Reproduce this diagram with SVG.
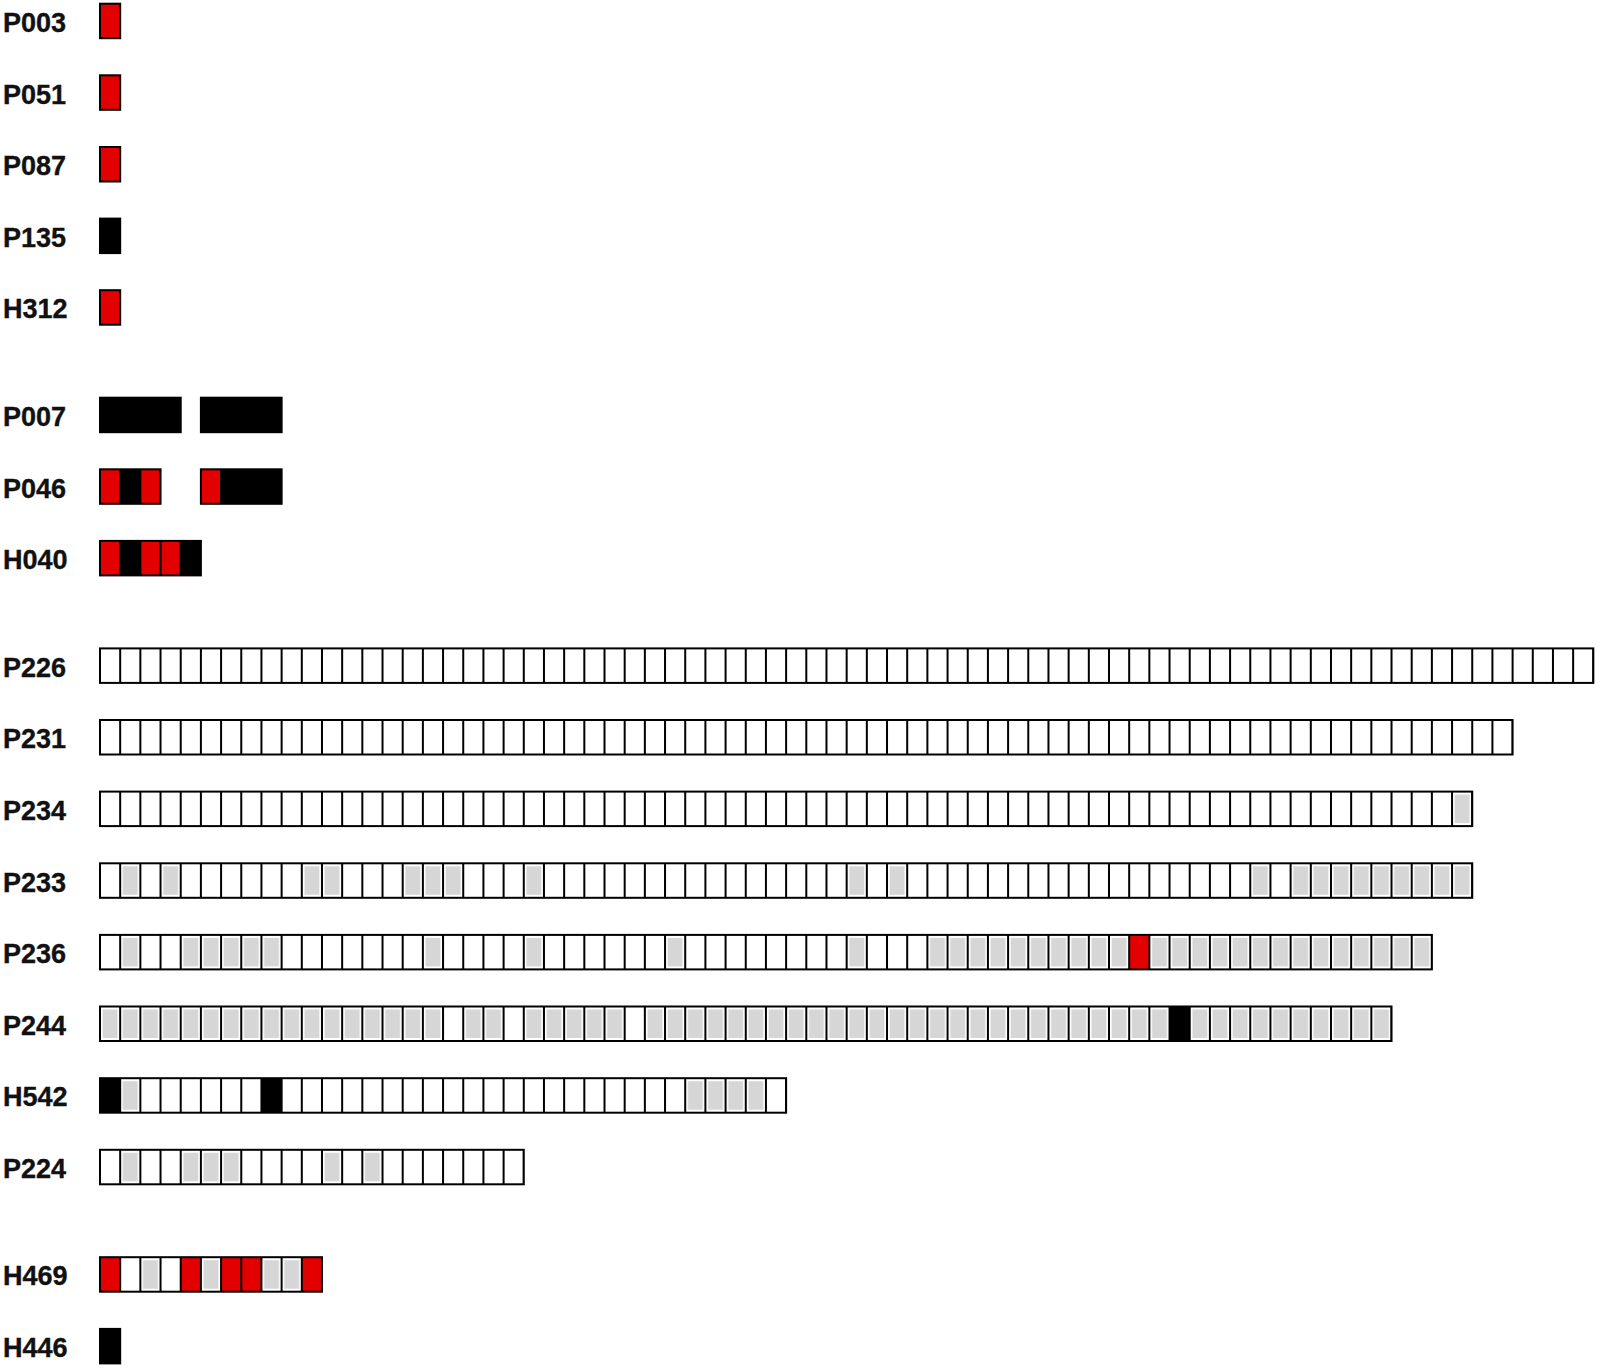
<svg xmlns="http://www.w3.org/2000/svg" width="1600" height="1372" viewBox="0 0 1600 1372">
<style>
.lbl{font-family:"Liberation Sans",Arial,sans-serif;font-weight:bold;font-size:27px;fill:#111;stroke:#111;stroke-width:0.35}
.bg{fill:#fff}
.gr{fill:url(#gp)}
.rd{fill:#e20000}
.bk{fill:#000}
.dv{stroke:#000;stroke-width:34.5;stroke-dasharray:2 18.16;stroke-dashoffset:1;fill:none}
.ol{fill:none;stroke:#000;stroke-width:2}
.c{stroke:#000;stroke-width:2}
</style>
<defs>
<pattern id="gp" patternUnits="userSpaceOnUse" x="100" y="0" width="20.16" height="36.5">
<rect x="2.6" y="4" width="14.96" height="28.5" fill="#d6d6d6"/>
</pattern>
</defs>
<rect width="1600" height="1372" fill="#fff"/>
<g id="chart" transform="matrix(1.000992 0 0 1 -0.0992 0)">

<g id="row-P003" transform="translate(0,2.7)">
<text class="lbl" x="3" y="29.3">P003</text>
<rect class="rd c" x="100" y="1" width="20.16" height="34.5"/>
</g>
<g id="row-P051" transform="translate(0,74.3)">
<text class="lbl" x="3" y="29.3">P051</text>
<rect class="rd c" x="100" y="1" width="20.16" height="34.5"/>
</g>
<g id="row-P087" transform="translate(0,146)">
<text class="lbl" x="3" y="29.3">P087</text>
<rect class="rd c" x="100" y="1" width="20.16" height="34.5"/>
</g>
<g id="row-P135" transform="translate(0,217.6)">
<text class="lbl" x="3" y="29.3">P135</text>
<rect class="bk c" x="100" y="1" width="20.16" height="34.5"/>
</g>
<g id="row-H312" transform="translate(0,289.2)">
<text class="lbl" x="3" y="29.3">H312</text>
<rect class="rd c" x="100" y="1" width="20.16" height="34.5"/>
</g>

<g id="row-P007" transform="translate(0,396.7)">
<text class="lbl" x="3" y="29.3">P007</text>
<rect class="bk c" x="100" y="1" width="80.64" height="34.5"/>
<rect class="bk c" x="200.8" y="1" width="80.64" height="34.5"/>
</g>
<g id="row-P046" transform="translate(0,468.3)">
<text class="lbl" x="3" y="29.3">P046</text>
<rect class="bg" x="100" y="1" width="60.48" height="34.5"/>
<rect class="rd" x="100" y="1" width="20.16" height="34.5"/>
<rect class="bk" x="120.16" y="1" width="20.16" height="34.5"/>
<rect class="rd" x="140.32" y="1" width="20.16" height="34.5"/>
<line class="dv" x1="100" y1="18.25" x2="160.48" y2="18.25"/>
<rect class="ol" x="100" y="1" width="60.48" height="34.5"/>
<rect class="rd" x="200.8" y="1" width="20.16" height="34.5"/>
<rect class="bk" x="220.96" y="1" width="60.48" height="34.5"/>
<line class="dv" x1="200.8" y1="18.25" x2="281.44" y2="18.25"/>
<rect class="ol" x="200.8" y="1" width="80.64" height="34.5"/>
</g>
<g id="row-H040" transform="translate(0,539.9)">
<text class="lbl" x="3" y="29.3">H040</text>
<rect class="rd" x="100" y="1" width="20.16" height="34.5"/>
<rect class="bk" x="120.16" y="1" width="20.16" height="34.5"/>
<rect class="rd" x="140.32" y="1" width="40.32" height="34.5"/>
<rect class="bk" x="180.64" y="1" width="20.16" height="34.5"/>
<line class="dv" x1="100" y1="18.25" x2="200.8" y2="18.25"/>
<rect class="ol" x="100" y="1" width="100.8" height="34.5"/>
</g>

<g id="row-P226" transform="translate(0,647.4)">
<text class="lbl" x="3" y="29.3">P226</text>
<rect class="bg" x="100" y="1" width="1491.84" height="34.5"/>
<line class="dv" x1="100" y1="18.25" x2="1591.84" y2="18.25"/>
<rect class="ol" x="100" y="1" width="1491.84" height="34.5"/>
</g>
<g id="row-P231" transform="translate(0,719)">
<text class="lbl" x="3" y="29.3">P231</text>
<rect class="bg" x="100" y="1" width="1411.2" height="34.5"/>
<line class="dv" x1="100" y1="18.25" x2="1511.2" y2="18.25"/>
<rect class="ol" x="100" y="1" width="1411.2" height="34.5"/>
</g>
<g id="row-P234" transform="translate(0,790.6)">
<text class="lbl" x="3" y="29.3">P234</text>
<rect class="bg" x="100" y="1" width="1370.88" height="34.5"/>
<rect class="gr" x="1450.72" y="1" width="20.16" height="34.5"/>
<line class="dv" x1="100" y1="18.25" x2="1470.88" y2="18.25"/>
<rect class="ol" x="100" y="1" width="1370.88" height="34.5"/>
</g>
<g id="row-P233" transform="translate(0,862.3)">
<text class="lbl" x="3" y="29.3">P233</text>
<rect class="bg" x="100" y="1" width="1370.88" height="34.5"/>
<rect class="gr" x="120.16" y="1" width="20.16" height="34.5"/>
<rect class="gr" x="160.48" y="1" width="20.16" height="34.5"/>
<rect class="gr" x="301.6" y="1" width="40.32" height="34.5"/>
<rect class="gr" x="402.4" y="1" width="60.48" height="34.5"/>
<rect class="gr" x="523.36" y="1" width="20.16" height="34.5"/>
<rect class="gr" x="845.92" y="1" width="20.16" height="34.5"/>
<rect class="gr" x="886.24" y="1" width="20.16" height="34.5"/>
<rect class="gr" x="1249.12" y="1" width="20.16" height="34.5"/>
<rect class="gr" x="1289.44" y="1" width="181.44" height="34.5"/>
<line class="dv" x1="100" y1="18.25" x2="1470.88" y2="18.25"/>
<rect class="ol" x="100" y="1" width="1370.88" height="34.5"/>
</g>
<g id="row-P236" transform="translate(0,933.9)">
<text class="lbl" x="3" y="29.3">P236</text>
<rect class="bg" x="100" y="1" width="1330.56" height="34.5"/>
<rect class="gr" x="120.16" y="1" width="20.16" height="34.5"/>
<rect class="gr" x="180.64" y="1" width="100.8" height="34.5"/>
<rect class="gr" x="422.56" y="1" width="20.16" height="34.5"/>
<rect class="gr" x="523.36" y="1" width="20.16" height="34.5"/>
<rect class="gr" x="664.48" y="1" width="20.16" height="34.5"/>
<rect class="gr" x="845.92" y="1" width="20.16" height="34.5"/>
<rect class="gr" x="926.56" y="1" width="201.6" height="34.5"/>
<rect class="rd" x="1128.16" y="1" width="20.16" height="34.5"/>
<rect class="gr" x="1148.32" y="1" width="282.24" height="34.5"/>
<line class="dv" x1="100" y1="18.25" x2="1430.56" y2="18.25"/>
<rect class="ol" x="100" y="1" width="1330.56" height="34.5"/>
</g>
<g id="row-P244" transform="translate(0,1005.5)">
<text class="lbl" x="3" y="29.3">P244</text>
<rect class="bg" x="100" y="1" width="1290.24" height="34.5"/>
<rect class="gr" x="100" y="1" width="342.72" height="34.5"/>
<rect class="gr" x="462.88" y="1" width="40.32" height="34.5"/>
<rect class="gr" x="523.36" y="1" width="100.8" height="34.5"/>
<rect class="gr" x="644.32" y="1" width="524.16" height="34.5"/>
<rect class="bk" x="1168.48" y="1" width="20.16" height="34.5"/>
<rect class="gr" x="1188.64" y="1" width="201.6" height="34.5"/>
<line class="dv" x1="100" y1="18.25" x2="1390.24" y2="18.25"/>
<rect class="ol" x="100" y="1" width="1290.24" height="34.5"/>
</g>
<g id="row-H542" transform="translate(0,1077.2)">
<text class="lbl" x="3" y="29.3">H542</text>
<rect class="bg" x="100" y="1" width="685.44" height="34.5"/>
<rect class="bk" x="100" y="1" width="20.16" height="34.5"/>
<rect class="gr" x="120.16" y="1" width="20.16" height="34.5"/>
<rect class="bk" x="261.28" y="1" width="20.16" height="34.5"/>
<rect class="gr" x="684.64" y="1" width="80.64" height="34.5"/>
<line class="dv" x1="100" y1="18.25" x2="785.44" y2="18.25"/>
<rect class="ol" x="100" y="1" width="685.44" height="34.5"/>
</g>
<g id="row-P224" transform="translate(0,1148.8)">
<text class="lbl" x="3" y="29.3">P224</text>
<rect class="bg" x="100" y="1" width="423.36" height="34.5"/>
<rect class="gr" x="120.16" y="1" width="20.16" height="34.5"/>
<rect class="gr" x="180.64" y="1" width="60.48" height="34.5"/>
<rect class="gr" x="321.76" y="1" width="20.16" height="34.5"/>
<rect class="gr" x="362.08" y="1" width="20.16" height="34.5"/>
<line class="dv" x1="100" y1="18.25" x2="523.36" y2="18.25"/>
<rect class="ol" x="100" y="1" width="423.36" height="34.5"/>
</g>

<g id="row-H469" transform="translate(0,1256.2)">
<text class="lbl" x="3" y="29.3">H469</text>
<rect class="bg" x="100" y="1" width="221.76" height="34.5"/>
<rect class="rd" x="100" y="1" width="20.16" height="34.5"/>
<rect class="gr" x="140.32" y="1" width="20.16" height="34.5"/>
<rect class="rd" x="180.64" y="1" width="20.16" height="34.5"/>
<rect class="gr" x="200.8" y="1" width="20.16" height="34.5"/>
<rect class="rd" x="220.96" y="1" width="40.32" height="34.5"/>
<rect class="gr" x="261.28" y="1" width="40.32" height="34.5"/>
<rect class="rd" x="301.6" y="1" width="20.16" height="34.5"/>
<line class="dv" x1="100" y1="18.25" x2="321.76" y2="18.25"/>
<rect class="ol" x="100" y="1" width="221.76" height="34.5"/>
</g>
<g id="row-H446" transform="translate(0,1327.9)">
<text class="lbl" x="3" y="29.3">H446</text>
<rect class="bk c" x="100" y="1" width="20.16" height="34.5"/>
</g>
</g>
</svg>
